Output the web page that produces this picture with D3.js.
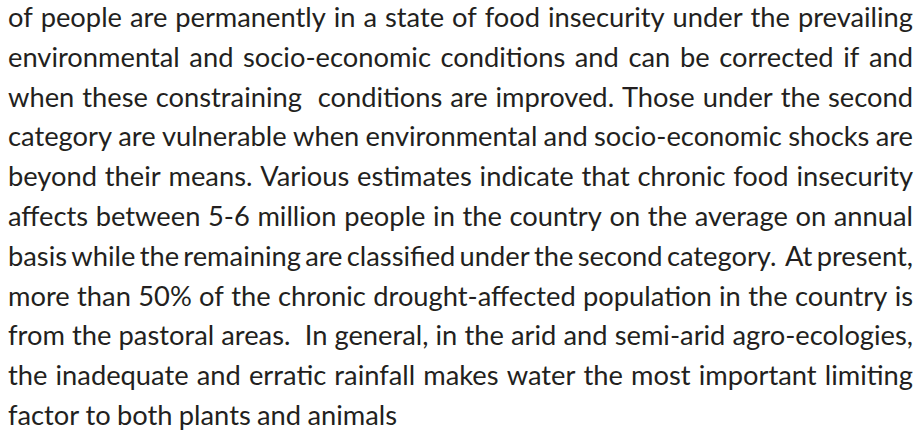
<!DOCTYPE html>
<html>
<head>
<meta charset="utf-8">
<script src="https://cdn.jsdelivr.net/npm/d3@7"></script>
<style>
  html, body { margin: 0; padding: 0; background: #fff; }
  svg { display: block; }
</style>
</head>
<body>
<svg class="page"></svg>
<script>
const width = 922;
const height = 435;

// the paragraph, one entry per printed line
const lines = [
  'of people are permanently in a state of food insecurity under the prevailing',
  'environmental and socio-economic conditions and can be corrected if and',
  'when these constraining  conditions are improved. Those under the second',
  'category are vulnerable when environmental and socio-economic shocks are',
  'beyond their means. Various estimates indicate that chronic food insecurity',
  'affects between 5-6 million people in the country on the average on annual',
  'basis while the remaining are classified under the second category.  At present,',
  'more than 50% of the chronic drought-affected population in the country is',
  'from the pastoral areas.  In general, in the arid and semi-arid agro-ecologies,',
  'the inadequate and erratic rainfall makes water the most important limiting',
  'factor to both plants and animals'
];
// last line of the paragraph is not justified
const justified = lines.map((d, i) => i < lines.length - 1);

const fontSize = 27.3;

const svg = d3.select('.page')
  .attr('width', width)
  .attr('height', height);

const yScale = d3.scaleLinear()
  .domain([0, lines.length - 1])
  .range([27, 425]);

const xScale = d3.scaleLinear()
  .domain([0, 1])
  .range([8, 913]);

const lineWidth = xScale(1) - xScale(0);

const rows = svg.selectAll('g.line')
  .data(lines)
  .enter()
  .append('g')
  .attr('class', 'line')
  .attr('transform', (d, i) => `translate(0,${yScale(i)})`);

rows.each(function (d, i) {
  const row = d3.select(this);
  const words = d.split(' ');
  const texts = row.selectAll('text')
    .data(words)
    .enter()
    .append('text')
    .attr('font-family', 'Lato, "Open Sans", sans-serif')
    .attr('font-size', fontSize)
    .attr('fill', '#231f20')
    .text(w => w);

  const widths = [];
  texts.each(function () { widths.push(this.getComputedTextLength()); });
  const total = d3.sum(widths);
  const gaps = words.length - 1;
  const normalGap = fontSize * 0.23;
  const minGap = fontSize * 0.14;

  let gap = normalGap;
  let squeeze = 1;
  if (justified[i]) {
    gap = (lineWidth - total) / gaps;
    if (gap < minGap) {
      gap = minGap;
      squeeze = (lineWidth - gaps * minGap) / total;
    }
  }

  let x = xScale(0);
  texts.each(function (w, j) {
    const t = d3.select(this).attr('x', x);
    if (squeeze < 1 && widths[j] > 0) {
      t.attr('textLength', widths[j] * squeeze)
        .attr('lengthAdjust', 'spacingAndGlyphs');
    }
    x += widths[j] * squeeze + gap;
  });
});
</script>
</body>
</html>
